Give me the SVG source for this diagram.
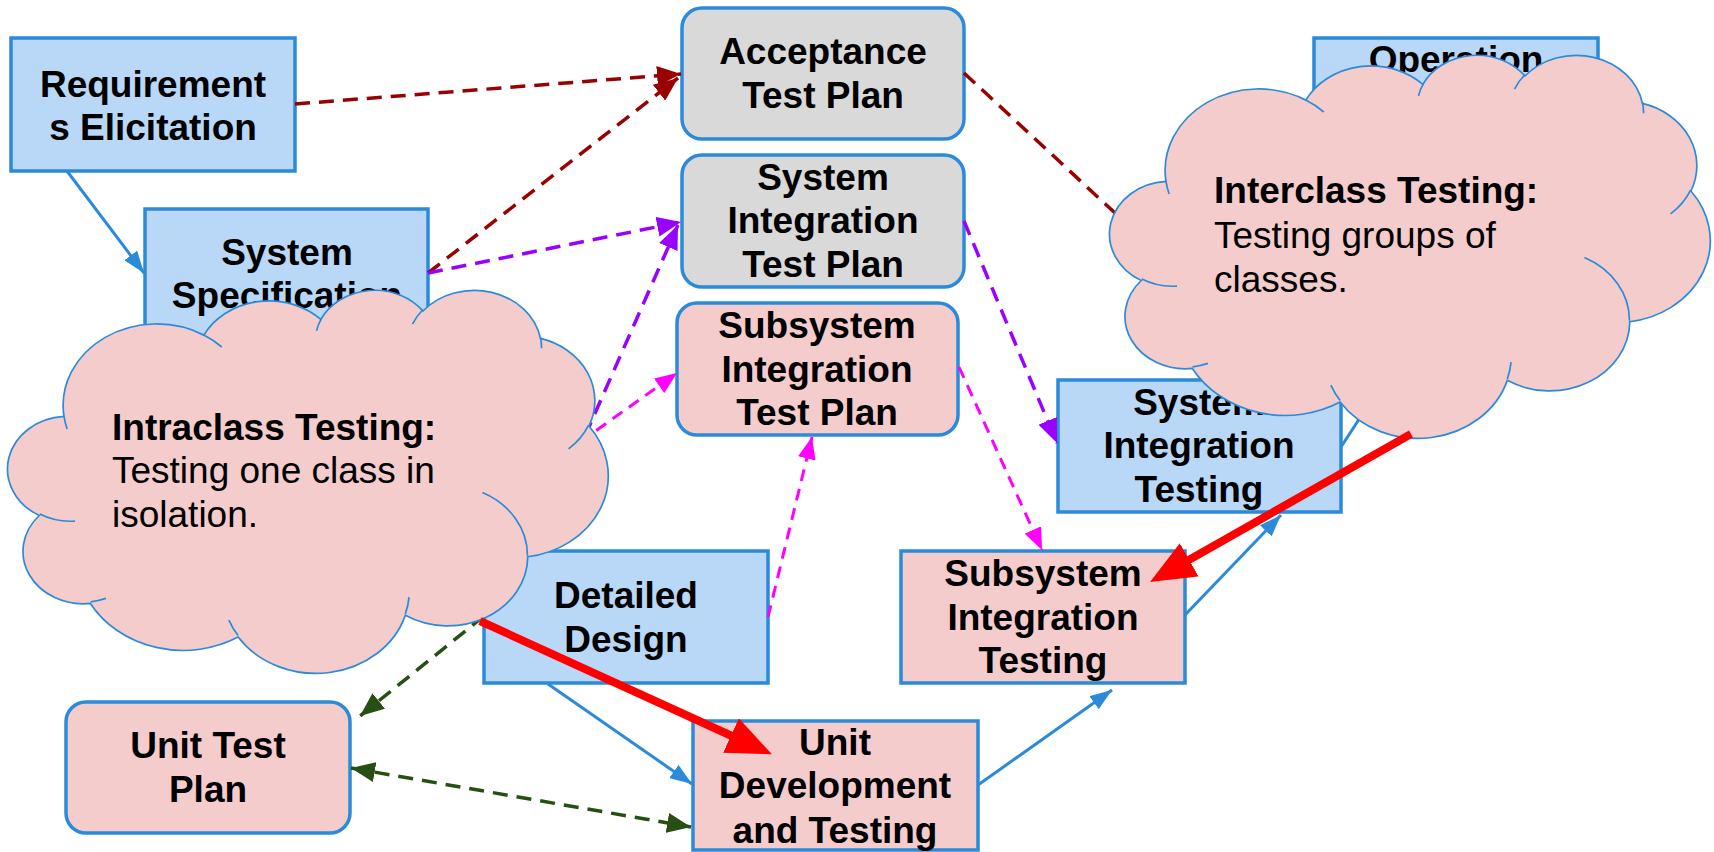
<svg xmlns="http://www.w3.org/2000/svg" xmlns:xlink="http://www.w3.org/1999/xlink" width="1714" height="852" viewBox="0 0 1714 852">
<style>
.box{stroke:#2b8ad9;stroke-width:3.5}
.blue{fill:#b9d7f6}
.pink{fill:#f4cccc}
.gray{fill:#d9d9d9}
.lbl{font-family:"Liberation Sans",Arial,sans-serif;font-size:37px;font-weight:bold;fill:#000;text-anchor:middle}
.ctext{font-family:"Liberation Sans",Arial,sans-serif;font-size:37px;fill:#000}
.ctext .b{font-weight:bold}
.c{fill:none}
.solid{stroke:#2b8ad9;stroke-width:3}
.dr{stroke:#990000;stroke-width:3.5;stroke-dasharray:15 9}
.pu{stroke:#9900ff;stroke-width:3.5;stroke-dasharray:15 9}
.mg{stroke:#ff00ff;stroke-width:3;stroke-dasharray:12 8}
.gr{stroke:#274e13;stroke-width:3.5;stroke-dasharray:15 9}
.red{stroke:#ff0000;stroke-width:8}
.cloud{fill:#f4cccc;stroke:#2b8ad9;stroke-width:1.7}
.cloudin{fill:none;stroke:#2b8ad9;stroke-width:1.7}
</style>
<defs>
<marker id="aBlue" markerUnits="userSpaceOnUse" markerWidth="22" markerHeight="16" refX="22" refY="8" orient="auto"><path d="M0,0 L22,8 L0,16 z" fill="#2b8ad9"/></marker>
<marker id="aDr" markerUnits="userSpaceOnUse" markerWidth="24" markerHeight="20" refX="24" refY="10" orient="auto"><path d="M0,0 L24,10 L0,20 z" fill="#990000"/></marker>
<marker id="aPu" markerUnits="userSpaceOnUse" markerWidth="24" markerHeight="20" refX="24" refY="10" orient="auto"><path d="M0,0 L24,10 L0,20 z" fill="#9900ff"/></marker>
<marker id="aMg" markerUnits="userSpaceOnUse" markerWidth="22" markerHeight="18" refX="22" refY="9" orient="auto"><path d="M0,0 L22,9 L0,18 z" fill="#ff00ff"/></marker>
<marker id="aGr" markerUnits="userSpaceOnUse" markerWidth="24" markerHeight="20" refX="24" refY="10" orient="auto-start-reverse"><path d="M0,0 L24,10 L0,20 z" fill="#274e13"/></marker>
<marker id="aRed" markerUnits="userSpaceOnUse" markerWidth="46" markerHeight="38" refX="1" refY="19" orient="auto"><path d="M0,0 L45,19 L0,38 z" fill="#ff0000"/></marker>
<g id="cloudShape">
<path class="cloud" d="M53.99,127.40 A93.48,81.48 0 0 1 193.86,46.12 A73.82,64.43 0 0 1 310.85,30.43 A60.42,52.71 0 0 1 412.97,22.00 A67.23,58.47 0 0 1 530.43,49.44 A73.82,64.48 0 0 1 578.88,137.06 A93.78,81.74 0 0 1 517.77,267.77 A80.08,69.75 0 0 1 395.29,326.37 A93.47,81.70 0 0 1 228.14,348.10 A106.87,93.47 0 0 1 80.37,314.47 A60.35,52.47 0 0 1 29.28,226.50 A60.15,52.71 0 0 1 53.99,127.40 Z"/>
<path class="cloudin" d="M64.96,232.08 A60.15,52.71 0 0 1 29.90,225.01 M95.90,309.41 A60.35,52.47 0 0 1 80.56,312.78 M228.10,346.56 A93.47,81.70 0 0 1 218.85,331.13 M399.04,308.09 A93.47,81.70 0 0 1 395.35,325.02 M472.44,203.50 A80.08,69.75 0 0 1 517.44,266.77 M578.59,136.12 A73.82,64.48 0 0 1 558.55,159.85 M530.50,48.10 A67.23,58.47 0 0 1 531.56,59.31 M402.51,35.04 A67.23,58.47 0 0 1 412.78,20.75 M306.49,41.85 A60.42,52.71 0 0 1 311.52,29.42 M193.80,46.03 A93.48,81.48 0 0 1 211.79,57.99 M57.13,139.98 A93.48,81.48 0 0 1 53.99,127.40"/>
</g>
</defs>
<rect width="1714" height="852" fill="#ffffff"/>

<g id="req-elicitation"><rect class="box blue" x="11" y="38" width="284" height="133"/><text class="lbl" x="153" y="97">Requirement</text><text class="lbl" x="153" y="140">s Elicitation</text></g>
<g id="system-specification"><rect class="box blue" x="145" y="209" width="283" height="133"/><text class="lbl" x="287" y="265">System</text><text class="lbl" x="287" y="308">Specification</text></g>
<g id="operation"><rect class="box blue" x="1314" y="38" width="284" height="133"/><text class="lbl" x="1456" y="72">Operation</text></g>
<g id="acceptance-test-plan"><rect class="box gray" x="682" y="8" width="282" height="131" rx="20"/><text class="lbl" x="823" y="64">Acceptance</text><text class="lbl" x="823" y="108">Test Plan</text></g>
<g id="system-integration-test-plan"><rect class="box gray" x="682" y="155" width="282" height="132" rx="20"/><text class="lbl" x="823" y="190">System</text><text class="lbl" x="823" y="233">Integration</text><text class="lbl" x="823" y="277">Test Plan</text></g>
<g id="subsystem-integration-test-plan"><rect class="box pink" x="677" y="303" width="281" height="132" rx="20"/><text class="lbl" x="817" y="338">Subsystem</text><text class="lbl" x="817" y="382">Integration</text><text class="lbl" x="817" y="425">Test Plan</text></g>
<g id="system-integration-testing"><rect class="box blue" x="1058" y="380" width="283" height="132"/><text class="lbl" x="1199" y="415">System</text><text class="lbl" x="1199" y="458">Integration</text><text class="lbl" x="1199" y="502">Testing</text></g>
<g id="subsystem-integration-testing"><rect class="box pink" x="901" y="551" width="284" height="132"/><text class="lbl" x="1043" y="586">Subsystem</text><text class="lbl" x="1043" y="630">Integration</text><text class="lbl" x="1043" y="673">Testing</text></g>
<g id="detailed-design"><rect class="box blue" x="484" y="551" width="284" height="132"/><text class="lbl" x="626" y="608">Detailed</text><text class="lbl" x="626" y="652">Design</text></g>
<g id="unit-test-plan"><rect class="box pink" x="66" y="702" width="284" height="131" rx="20"/><text class="lbl" x="208" y="758">Unit Test</text><text class="lbl" x="208" y="802">Plan</text></g>
<g id="unit-development-testing"><rect class="box pink" x="693" y="721" width="285" height="129"/><text class="lbl" x="835" y="755">Unit</text><text class="lbl" x="835" y="798">Development</text><text class="lbl" x="835" y="843">and Testing</text></g>

<g id="connectors" class="c">
<line class="solid" x1="67" y1="171" x2="144" y2="273" marker-end="url(#aBlue)"/>
<line class="solid" x1="548" y1="684" x2="692" y2="784" marker-end="url(#aBlue)"/>
<line class="solid" x1="978" y1="785" x2="1112" y2="690" marker-end="url(#aBlue)"/>
<line class="solid" x1="1185" y1="615" x2="1281" y2="515" marker-end="url(#aBlue)"/>
<line class="solid" x1="1341" y1="447" x2="1417" y2="330"/>
<line class="dr" x1="295" y1="104" x2="681" y2="74" marker-end="url(#aDr)"/>
<line class="dr" x1="428" y1="273" x2="678" y2="78" marker-end="url(#aDr)"/>
<line class="dr" x1="964" y1="73" x2="1170" y2="264"/>
<line class="pu" x1="428" y1="273" x2="681" y2="222" marker-end="url(#aPu)"/>
<line class="pu" x1="585" y1="436" x2="678" y2="225" marker-end="url(#aPu)"/>
<line class="pu" x1="964" y1="221" x2="1057" y2="443" marker-end="url(#aPu)"/>
<line class="mg" x1="580" y1="442" x2="677" y2="373" marker-end="url(#aMg)"/>
<line class="mg" x1="768" y1="617" x2="812" y2="437" marker-end="url(#aMg)"/>
<line class="mg" x1="959" y1="367" x2="1042" y2="550" marker-end="url(#aMg)"/>
<line class="gr" x1="484" y1="616" x2="360" y2="716" marker-end="url(#aGr)"/>
<line class="gr" x1="351" y1="768" x2="691" y2="827" marker-start="url(#aGr)" marker-end="url(#aGr)"/>
</g>

<g id="intraclass-cloud">
<use xlink:href="#cloudShape" href="#cloudShape" transform="translate(10,289)"/>
<text class="ctext" x="112" y="440"><tspan class="b">Intraclass Testing:</tspan></text>
<text class="ctext" x="112" y="483">Testing one class in</text>
<text class="ctext" x="112" y="527">isolation.</text>
</g>
<g id="interclass-cloud">
<use xlink:href="#cloudShape" href="#cloudShape" transform="translate(1112,54)"/>
<text class="ctext" x="1214" y="203"><tspan class="b">Interclass Testing:</tspan></text>
<text class="ctext" x="1214" y="248">Testing groups of</text>
<text class="ctext" x="1214" y="292">classes.</text>
</g>

<g id="callout-connectors" class="c">
<line class="red" x1="480" y1="621" x2="731.9" y2="736" marker-end="url(#aRed)"/>
<line class="red" x1="1411" y1="434" x2="1188.3" y2="560.3" marker-end="url(#aRed)"/>
</g>
</svg>
